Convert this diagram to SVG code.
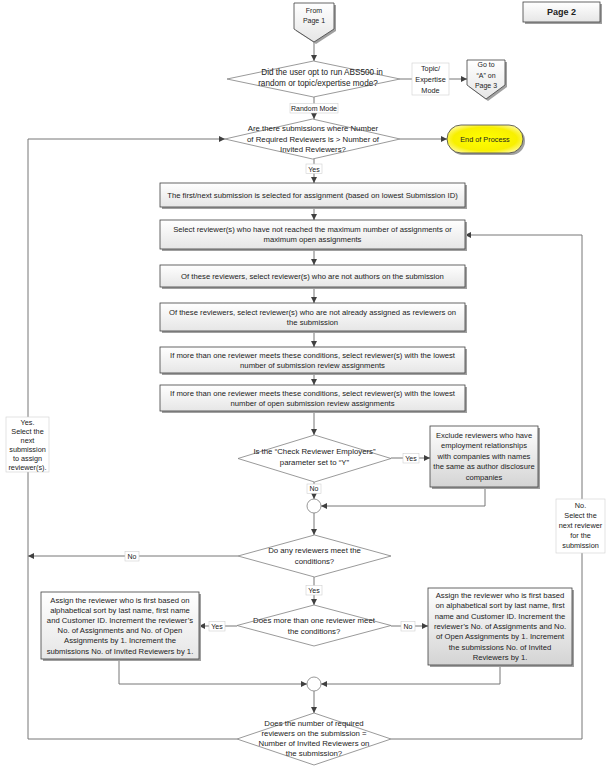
<svg xmlns="http://www.w3.org/2000/svg" width="613" height="771" viewBox="0 0 613 771">
<defs>
<linearGradient id="gBox" x1="0" y1="0" x2="0" y2="1"><stop offset="0" stop-color="#ffffff"/><stop offset="1" stop-color="#e6e6e6"/></linearGradient>
<linearGradient id="gDark" x1="0" y1="0" x2="0" y2="1"><stop offset="0" stop-color="#ffffff"/><stop offset="1" stop-color="#d4d4d4"/></linearGradient>
<radialGradient id="gYel" cx="0.5" cy="0.5" r="0.6"><stop offset="0" stop-color="#ffff00"/><stop offset="0.7" stop-color="#f8f000"/><stop offset="1" stop-color="#fff8a0"/></radialGradient>
<marker id="ah" viewBox="0 0 10 10" refX="10" refY="5" markerWidth="6" markerHeight="6" orient="auto" markerUnits="userSpaceOnUse"><path d="M0,0 L10,5 L0,10 z" fill="#404040"/></marker>
</defs>
<style>
text{font-family:"Liberation Sans",Arial,sans-serif;font-size:7px;fill:#222;text-anchor:middle}
.bt{font-size:7.7px}
.dt{font-size:7.8px}
.box{fill:url(#gBox);stroke:#404040;stroke-width:0.8}
.boxd{fill:url(#gDark);stroke:#404040;stroke-width:0.8}
.sh{fill:#a0a0a0}
.dia{fill:#fff;stroke:#808080;stroke-width:0.8}
.con{fill:none;stroke:#777;stroke-width:1}
.arr{marker-end:url(#ah)}
.lbl{fill:#fff;stroke:#d0d0d0;stroke-width:0.6}
.lt{font-size:7.3px}
</style>

<g id="connectors">
<path class="con arr" d="M314,42 V61"/>
<path class="con arr" d="M400,79 H467"/>
<path class="con arr" d="M314,97 V119"/>
<path class="con arr" d="M400,139 H447"/>
<path class="con arr" d="M314,159 V183"/>
<path class="con arr" d="M314,207 V220"/>
<path class="con arr" d="M314,249 V265"/>
<path class="con arr" d="M314,287 V303"/>
<path class="con arr" d="M314,331 V347"/>
<path class="con arr" d="M314,373 V385"/>
<path class="con arr" d="M314,411 V435"/>
<path class="con arr" d="M391,458 H430"/>
<path class="con arr" d="M314,482 V499"/>
<path class="con arr" d="M485,487 V506 H321"/>
<path class="con arr" d="M314,513 V535"/>
<path class="con arr" d="M238,556 H28"/>
<path class="con arr" d="M314,577 V605"/>
<path class="con arr" d="M237,626 H199"/>
<path class="con arr" d="M391,626 H428"/>
<path class="con arr" d="M119,659 V684 H307"/>
<path class="con arr" d="M500,665 V684 H321"/>
<path class="con arr" d="M314,691 V713"/>
<path class="con arr" d="M237,739 H28 V139 H225"/>
<path class="con arr" d="M391,739 H582 V235 H465"/>
<rect class="lbl" x="412" y="63" width="37" height="32"/>
<text class="lt" x="430.5" y="70.5">Topic/</text><text class="lt" x="430.5" y="81.5">Expertise</text><text class="lt" x="430.5" y="92.5">Mode</text>
<rect class="lbl" x="290" y="103.5" width="48" height="9.5"/>
<text x="314" y="110.5">Random Mode</text>
<rect class="lbl" x="306" y="164" width="16" height="9.5"/>
<text x="314" y="171.5">Yes</text>
<rect class="lbl" x="403" y="453.5" width="16" height="9.5"/>
<text x="411" y="460.5">Yes</text>
<rect class="lbl" x="307" y="484" width="14" height="9.5"/>
<text x="314" y="491">No</text>
<rect class="lbl" x="125" y="551.5" width="14" height="9.5"/>
<text x="132" y="558.5">No</text>
<rect class="lbl" x="306" y="585.5" width="16" height="9.5"/>
<text x="314" y="592.5">Yes</text>
<rect class="lbl" x="209" y="621.5" width="16" height="9.5"/>
<text x="217" y="628.5">Yes</text>
<rect class="lbl" x="401" y="621.5" width="14" height="9.5"/>
<text x="408" y="628.5">No</text>
<rect class="lbl" x="6" y="417" width="43" height="55"/>
<text class="lt" x="27.5" y="425">Yes.</text><text class="lt" x="27.5" y="434">Select the</text><text class="lt" x="27.5" y="443">next</text><text class="lt" x="27.5" y="452">submission</text><text class="lt" x="27.5" y="461">to assign</text><text class="lt" x="27.5" y="470">reviewer(s).</text>
<rect class="lbl" x="556" y="499" width="49" height="54"/>
<text class="lt" x="580.5" y="507.5">No.</text><text class="lt" x="580.5" y="517.5">Select the</text><text class="lt" x="580.5" y="527.5">next reviewer</text><text class="lt" x="580.5" y="537.5">for the</text><text class="lt" x="580.5" y="547.5">submission</text>
</g>

<g id="page2">
<rect class="sh" x="525" y="4" width="77" height="20"/>
<rect class="box" x="523" y="2" width="77" height="20"/>
<text x="561.5" y="15" style="font-size:9px;font-weight:bold">Page 2</text>
</g>

<g id="fromPage1">
<path class="sh" d="M296,5 H336 V31 L316,44 L296,31 z"/>
<path class="box" d="M294,3 H334 V29 L314,42 L294,29 z"/>
<text x="314" y="12.5">From</text><text x="314" y="23">Page 1</text>
</g>

<g id="goToA">
<path class="sh" d="M469,62 H507 V87 L488,101 L469,87 z"/>
<path class="box" d="M467,60 H505 V85 L486,99 L467,85 z"/>
<text x="486" y="67">Go to</text><text x="486" y="77.5">“A” on</text><text x="486" y="88">Page 3</text>
</g>

<g id="modeDecision">
<path class="dia" d="M313.5,61 L400,79 L313.5,97 L227,79 z"/>
<text x="322" y="75" style="font-size:8.2px">Did the user opt to run ABS500 in</text>
<text x="318" y="86" style="font-size:8.2px">random or topic/expertise mode?</text>
</g>

<g id="submissionsDecision">
<path class="dia" d="M312.5,119 L400,139 L312.5,159 L225,139 z"/>
<text class="dt" x="313" y="130.5">Are there submissions where Number</text>
<text class="dt" x="313" y="141.5">of Required Reviewers is &gt; Number of</text>
<text class="dt" x="313" y="152">Invited Reviewers?</text>
</g>

<g id="endProcess">
<rect class="sh" x="449" y="127" width="76" height="28" rx="14"/>
<rect x="447" y="125" width="76" height="28" rx="14" fill="url(#gYel)" stroke="#404040" stroke-width="0.8"/>
<text x="485" y="141.5" style="font-size:7.3px">End of Process</text>
</g>

<g id="box1">
<rect class="sh" x="162" y="185" width="305" height="24"/>
<rect class="box" x="160" y="183" width="305" height="24"/>
<text class="bt" x="312.5" y="197.5">The first/next submission is selected for assignment (based on lowest Submission ID)</text>
</g>

<g id="box2">
<rect class="sh" x="162" y="222" width="305" height="29"/>
<rect class="box" x="160" y="220" width="305" height="29"/>
<text class="bt" x="312.5" y="232">Select reviewer(s) who have not reached the maximum number of assignments or</text>
<text class="bt" x="312.5" y="242">maximum open assignments</text>
</g>

<g id="box3">
<rect class="sh" x="162" y="267" width="305" height="22"/>
<rect class="box" x="160" y="265" width="305" height="22"/>
<text class="bt" x="312.5" y="278.5">Of these reviewers, select reviewer(s) who are not authors on the submission</text>
</g>

<g id="box4">
<rect class="sh" x="162" y="305" width="305" height="28"/>
<rect class="box" x="160" y="303" width="305" height="28"/>
<text class="bt" x="312.5" y="314.5">Of these reviewers, select reviewer(s) who are not already assigned as reviewers on</text>
<text class="bt" x="312.5" y="324.5">the submission</text>
</g>

<g id="box5">
<rect class="sh" x="162" y="349" width="305" height="26"/>
<rect class="box" x="160" y="347" width="305" height="26"/>
<text class="bt" x="312.5" y="357.5">If more than one reviewer meets these conditions, select reviewer(s) with the lowest</text>
<text class="bt" x="312.5" y="367.5">number of submission review assignments</text>
</g>

<g id="box6">
<rect class="sh" x="162" y="387" width="305" height="26"/>
<rect class="box" x="160" y="385" width="305" height="26"/>
<text class="bt" x="312.5" y="395.5">If more than one reviewer meets these conditions, select reviewer(s) with the lowest</text>
<text class="bt" x="312.5" y="405.5">number of open submission review assignments</text>
</g>

<g id="employersDecision">
<path class="dia" d="M314.5,435 L391,458.5 L314.5,482 L238,458.5 z"/>
<text class="dt" x="314.5" y="454">Is the “Check Reviewer Employers”</text>
<text class="dt" x="314.5" y="465">parameter set to “Y”</text>
</g>

<g id="excludeBox">
<rect class="sh" x="432" y="428" width="108" height="61"/>
<rect class="boxd" x="430" y="426" width="108" height="61"/>
<text x="484" y="437.5" style="font-size:7.6px">Exclude reviewers who have</text>
<text x="484" y="448" style="font-size:7.6px">employment relationships</text>
<text x="484" y="458.5" style="font-size:7.6px">with companies with names</text>
<text x="484" y="469" style="font-size:7.6px">the same as author disclosure</text>
<text x="484" y="479.5" style="font-size:7.6px">companies</text>
</g>

<g id="merge1">
<circle cx="314" cy="506" r="7" fill="#fff" stroke="#7f7f7f" stroke-width="0.8"/>
</g>

<g id="anyReviewersDecision">
<path class="dia" d="M314.5,535 L391,556 L314.5,577 L238,556 z"/>
<text class="dt" x="314.5" y="553">Do any reviewers meet the</text>
<text class="dt" x="314.5" y="564">conditions?</text>
</g>

<g id="moreThanOneDecision">
<path class="dia" d="M314,605 L391,625.5 L314,646 L237,625.5 z"/>
<text class="dt" x="314" y="622.5">Does more than one reviewer meet</text>
<text class="dt" x="314" y="633.5">the conditions?</text>
</g>

<g id="assignLeft">
<rect class="sh" x="43" y="594" width="158" height="67"/>
<rect class="box" x="41" y="592" width="158" height="67"/>
<text class="bt" x="120" y="602.5">Assign the reviewer who is first based on</text>
<text class="bt" x="120" y="612.7">alphabetical sort by last name, first name</text>
<text class="bt" x="120" y="622.9">and Customer ID.  Increment the reviewer’s</text>
<text class="bt" x="120" y="633.1">No. of Assignments and No. of Open</text>
<text class="bt" x="120" y="643.3">Assignments by 1.  Increment the</text>
<text class="bt" x="120" y="653.5">submissions No. of Invited Reviewers by 1.</text>
</g>

<g id="assignRight">
<rect class="sh" x="430" y="590" width="144" height="77"/>
<rect class="boxd" x="428" y="588" width="144" height="77"/>
<text class="bt" x="500" y="598">Assign the reviewer who is first based</text>
<text class="bt" x="500" y="608.3">on alphabetical sort by last name, first</text>
<text class="bt" x="500" y="618.6">name and Customer ID.  Increment the</text>
<text class="bt" x="500" y="628.9">reviewer’s No. of Assignments and No.</text>
<text class="bt" x="500" y="639.2">of Open Assignments by 1.  Increment</text>
<text class="bt" x="500" y="649.5">the submissions No. of Invited</text>
<text class="bt" x="500" y="659.8">Reviewers by 1.</text>
</g>

<g id="merge2">
<circle cx="314" cy="684" r="7" fill="#fff" stroke="#7f7f7f" stroke-width="0.8"/>
</g>

<g id="requiredDecision">
<path class="dia" d="M314,713 L391,739 L314,765 L237,739 z"/>
<text class="dt" x="314" y="725.5">Does the number of required</text>
<text class="dt" x="314" y="735.5">reviewers on the submission =</text>
<text class="dt" x="314" y="745.5">Number of Invited Reviewers on</text>
<text class="dt" x="314" y="755.5">the submission?</text>
</g>
</svg>
